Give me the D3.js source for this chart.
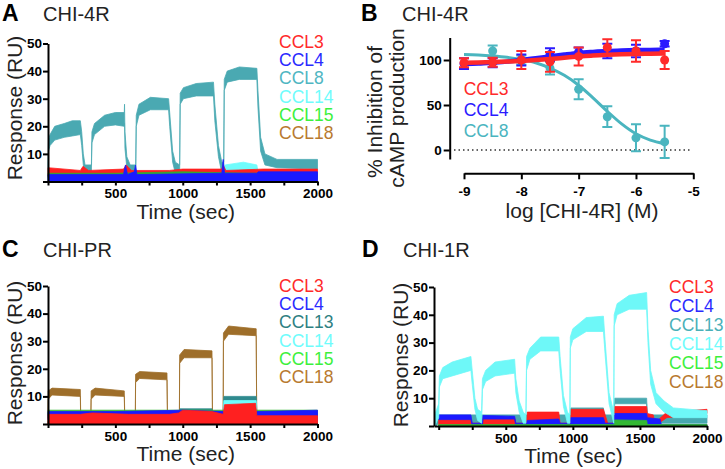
<!DOCTYPE html>
<html>
<head>
<meta charset="utf-8">
<script src="https://cdn.jsdelivr.net/npm/d3@7"></script>
<style>
  body { margin: 0; background: #fff; }
  text { font-family: 'Liberation Sans', Arial, sans-serif; }
</style>
</head>
<body>
<script>
// ---- data: sensorgram traces as [time (s), low RU, high RU] ----
const A_CCL8 = [[0,2,6],[4,11,15],[15,13,17],[50,15,20],[120,16,21],[180,16.5,22],[240,17,22],[250,13,18],[262,6,10],[275,3,6],[322,3,6],
  [326,14,18],[345,17,21],[420,20,24],[500,20.5,25],[566,20,25],[568,21,28],[571,12,18],[585,5,9],[610,3,6],[651,3,6],
  [655,20,24],[675,24,28],[760,26,30.5],[895,26,30],[903,20,25],[925,7,11],[945,3,7],[977,3,6],
  [981,28,32],[1005,30,34],[1100,31,35.5],[1228,31,36],[1238,22,28],[1265,9,13],[1290,3,7],[1304,3,7],
  [1308,33,37],[1330,36,40],[1420,37,41.5],[1550,37,41],[1558,27,33],[1578,11,16],[1610,6,10],[1700,5,8],[2000,4.5,8]];
const A_CCL14 = [[0,0,2],[1300,1,3],[1315,3,6],[1450,3,7],[1550,3,6],[1560,1,3],[2000,1,3]];
const A_CCL18 = [[0,0,1],[2000,0,1]];
const A_CCL3 = [[0,1.5,5],[240,1.5,4],[260,2,5.5],[300,1.5,4],[560,1.5,4.5],[580,2,6],[620,1.5,4],[900,1.5,4],
  [1000,1.5,4.5],[1290,1.5,4.5],[1300,2,6],[1320,1.5,4],[1600,1.5,4.5],[2000,1.5,4.5]];
const A_CCL15 = [[0,1,3],[500,1,3],[1000,1,3.5],[1500,1,3],[2000,1,3]];
const A_CCL4 = [[0,0,2.5],[560,0,2.5],[575,0,6],[590,0,2.5],[640,0,3.5],[650,0,6],[660,0,2.5],[1290,0,3],[1300,0,8],
  [1310,0,3],[1550,0,3],[1560,0,3.5],[2000,0,3.5]];

const C_CCL18 = [[0,0,2],[2,9,12],[30,10.5,13],[240,10,12.5],[243,0,2],[318,0,2],[320,9,12],[350,10.5,13],[566,10,12],[570,0,2],
  [648,0,2],[650,15,18],[680,16.5,19],[883,16,18.5],[887,0,2],[975,0,2],[977,22,25],[1010,24,27],[1217,24,26.5],[1221,0,2],
  [1300,0,2],[1302,30,33],[1340,32.5,35.5],[1545,32,34.5],[1549,0,2],[2000,0,2]];
const C_CCL13 = [[0,2,4],[975,2,4],[980,3,5.5],[1217,3,5.5],[1222,2,4],[1300,2,4],[1305,7.5,10],[1545,7.5,10],[1550,2,4],[2000,2,4]];
const C_CCL14 = [[0,1,3],[1300,1,3],[1305,5.5,8.5],[1545,6,8.5],[1550,1,3],[2000,1,3]];
const C_CCL15 = [[0,2,5],[600,2,5],[1000,2,5],[2000,2,5]];
const C_CCL4 = [[0,1.5,4.5],[500,1.5,4.5],[1000,1.5,5],[1300,1.5,4.5],[1310,0,3],[1545,0,3],[1550,1.5,4.5],[2000,1,5]];
const C_CCL3 = [[0,0,3.5],[240,0,3.5],[330,0,4],[600,0,3.5],[900,0,3.5],[970,0,4],[1000,0,5],[1217,0,4.5],[1300,0,3.5],
  [1310,0,7],[1540,0,7.5],[1550,0,3],[2000,0,3]];

const D_CCL13 = [[-20,0,1],[0,1,4],[981,1,4],[985,5,6.5],[1228,5,6.5],[1235,1,4],[1308,1,4],[1312,8,10],[1550,8,10],[1555,1,4],[2000,1,4]];
const D_CCL18 = [[0,0,0.5],[2000,0,0.5]];
const D_CCL3 = [[0,0.5,2.5],[240,0.5,2.5],[250,0,1],[326,0,1],[330,0.5,3],[566,0.5,3],[575,0,1],[655,0,1],[660,2,5],[895,2,5],
  [905,0,1],[981,0,1],[985,2,6],[1228,2,6],[1260,0,1],[1308,0,1],[1312,4,7],[1550,4,7],[1555,2,4.5],[1600,2,4],[1610,0,1],
  [1700,3,5],[2000,4.5,6]];
const D_CCL4 = [[0,2.3,4],[240,2.3,4],[250,0,1],[326,0,1],[330,2.5,3.8],[566,2.5,3.5],[575,0,1],[655,0,1],[660,0,2],[895,0,2.5],
  [905,0,1],[981,0,1],[985,0,3],[1228,0,3],[1240,0,1],[1308,0,1],[1312,1.5,4.5],[1550,1.5,4.5],[1555,0,3],[1650,0,2.5],
  [1660,0,0.5],[2000,0,0.5]];
const D_CCL15 = [[0,0,0.5],[1308,0,0.5],[1312,0,2.2],[1550,0,2],[1555,0,0.5],[2000,0,0.5]];
const D_CCL14 = [[-30,0,4],[0,3,8],[5,14,18],[30,17,21],[100,18,23],[240,20,25],[250,15,20],[270,6,10],[290,2,6],[320,1,5],
  [326,13,17],[350,16,20],[420,18,23],[566,19,24],[575,12,17],[600,5,9],[630,1,5],[650,1,4],
  [655,20,25],[680,24,28],[760,27,32],[895,27,32],[905,20,25],[930,7,11],[960,1,5],[978,1,4],
  [981,28,32],[1000,31,35],[1100,34,39],[1228,34,39.5],[1240,26,31],[1270,8,12],[1300,2,6],[1305,1,4],
  [1308,36,40],[1330,40,44],[1420,42,47],[1550,42,48],[1560,30,35],[1580,15,20],[1620,8,12],[1680,5,9],[1750,3,6.5],[2000,3,5.5]];

// ---- data: cAMP inhibition (panel B) ----
const B_x = [-9, -8.5, -8, -7.5, -7, -6.5, -6, -5.5];
const B_CCL3 = [97, 97.5, 100, 98, 104, 114, 110, 100];
const B_CCL3_err = [5, 5, 10, 11, 10, 9, 12, 10];
const B_CCL4 = [96, 97, 100, 106, 109, 110, 110, 118];
const B_CCL4_err = [6, 5, 6, 7, 5, 8, 7, 3];
const B_CCL8_x = [-8.5, -8, -7.5, -7, -6.5, -6, -5.5];
const B_CCL8 = [110, 100, 91, 67.5, 37, 13.5, 9];
const B_CCL8_err = [6, 5, 7, 11, 11.5, 15, 18];
const B_fitX = [-9, -8.75, -8.5, -8.25, -8, -7.75, -7.5, -7.25, -7, -6.75, -6.5, -6.25, -6, -5.75, -5.5];
const B_fitCCL3 = [97, 97.3, 97.7, 98.3, 99, 100, 101.2, 102.5, 103.8, 105, 105.8, 106.4, 106.8, 107, 107.2];
const B_fitCCL4 = [95.5, 96, 97, 98.2, 100, 102, 104, 106, 107.8, 109, 110, 110.6, 111, 111.2, 111.3];
const B_fitCCL8 = [106, 105.5, 104.5, 103, 100.5, 97, 91, 83, 72, 58, 43, 29, 18, 11, 7];

const timeTicks = [0, 250, 500, 750, 1000, 1250, 1500, 1750, 2000];
const ruTicks = [0, 10, 20, 30, 40, 50];

const red = '#ff2a2a', blue = '#2a2aff', teal = '#4fb6c2', cyan = '#6ffcfc', green = '#3cf03c', brown = '#b87a2f';

const svg = d3.select('body').append('svg').attr('width', 725).attr('height', 469);

function styleAxis(s) {
  s.attr('font-family', null);
  s.select('.domain').attr('stroke', '#000').attr('stroke-width', 2);
  s.selectAll('.tick line').attr('stroke', '#000').attr('stroke-width', 2);
  s.selectAll('.tick text').attr('fill', '#000').style('font-size', '13.5px').style('font-weight', 'bold');
}

function heading(x, y, letter, label) {
  svg.append('text').attr('x', x).attr('y', y).style('font-size', '23px').style('font-weight', 'bold').text(letter);
  svg.append('text').attr('x', x + 41).attr('y', y).style('font-size', '20px').attr('fill', '#222').text(label);
}

function legend(x, y, step, items) {
  svg.append('g').selectAll('text').data(items).join('text')
    .attr('x', x).attr('y', (d, i) => y + i * step)
    .attr('fill', d => d[1]).style('font-size', '17.5px')
    .text(d => d[0]);
}

function sensorPanel(p) {
  const x = d3.scaleLinear().domain(p.xDomain).range(p.xRange);
  const y = d3.scaleLinear().domain([0, 50]).range(p.yRange);
  const area = d3.area().x(d => x(d[0])).y0(d => y(d[1])).y1(d => y(d[2]));

  p.traces.forEach(t => {
    svg.append('path').datum(t[0]).attr('d', area)
      .attr('fill', t[1]).attr('stroke', t[1]).attr('stroke-width', 0.8).attr('stroke-linejoin', 'round');
  });

  svg.append('g').attr('transform', `translate(0,${y(0)})`)
    .call(d3.axisBottom(x).tickValues(timeTicks).tickFormat(d => d > 0 && d % 500 === 0 ? d : '')
      .tickSize(4).tickSizeOuter(0).tickPadding(3))
    .call(styleAxis);

  svg.append('g').attr('transform', `translate(${p.xRange[0]},0)`)
    .call(d3.axisLeft(y).tickValues(ruTicks).tickFormat(d => d === 0 ? '' : d)
      .tickSize(5).tickSizeOuter(0).tickPadding(1))
    .call(styleAxis);

  svg.append('text').attr('x', (p.xRange[0] + p.xRange[1]) / 2 + 3).attr('y', y(0) + 37)
    .attr('text-anchor', 'middle').attr('fill', '#222').style('font-size', '21px').text('Time (sec)');

  svg.append('text').attr('transform', `translate(${p.xRange[0] - 26},${p.titleY}) rotate(-90)`)
    .attr('text-anchor', 'middle').attr('fill', '#222').style('font-size', '21px').text('Response (RU)');
}

// ── Panel A ──
heading(2, 21, 'A', 'CHI-4R');
sensorPanel({
  xDomain: [0, 2000], xRange: [48, 317.5], yRange: [181.5, 43.5], titleY: 108,
  traces: [[A_CCL14, cyan], [A_CCL18, brown], [A_CCL8, '#4aa9b2'], [A_CCL3, '#ff2020'], [A_CCL15, '#33a833'], [A_CCL4, '#1a1aff']]
});
legend(279, 48, 18.2, [['CCL3', red], ['CCL4', blue], ['CCL8', teal], ['CCL14', cyan], ['CCL15', green], ['CCL18', brown]]);

// ── Panel C ──
heading(2, 257, 'C', 'CHI-PR');
sensorPanel({
  xDomain: [0, 2000], xRange: [48, 317.5], yRange: [424, 286], titleY: 353,
  traces: [[C_CCL18, '#9e6e2a'], [C_CCL13, '#2f8a8e'], [C_CCL14, cyan], [C_CCL15, '#33b833'], [C_CCL4, '#1a1aff'], [C_CCL3, '#ff2020']]
});
legend(279, 292, 18.2, [['CCL3', red], ['CCL4', blue], ['CCL13', '#2e8082'], ['CCL14', cyan], ['CCL15', green], ['CCL18', brown]]);

// ── Panel D ──
heading(362, 257, 'D', 'CHI-1R');
sensorPanel({
  xDomain: [-35, 2000], xRange: [434, 707], yRange: [426, 287], titleY: 355,
  traces: [[D_CCL13, '#48a8b0'], [D_CCL18, brown], [D_CCL3, '#ff2020'], [D_CCL4, '#1a1aff'], [D_CCL15, '#33b833'], [D_CCL14, '#6ef8f8']]
});
legend(669, 293, 19, [['CCL3', red], ['CCL4', blue], ['CCL13', '#4ab0b8'], ['CCL14', cyan], ['CCL15', green], ['CCL18', brown]]);

// ── Panel B ──
heading(361, 21, 'B', 'CHI-4R');
{
  const x = d3.scaleLinear().domain([-9, -5]).range([464, 693.3]);
  const y = d3.scaleLinear().domain([-10, 125]).range([159, 37.5]);

  svg.append('line').attr('x1', 454).attr('x2', 692).attr('y1', y(0)).attr('y2', y(0))
    .attr('stroke', '#333').attr('stroke-width', 1.5).attr('stroke-dasharray', '1.5,3');

  const line = d3.line().x(d => x(d[0])).y(d => y(d[1])).curve(d3.curveMonotoneX);
  const series = [
    { xs: B_CCL8_x, m: B_CCL8, e: B_CCL8_err, fit: B_fitCCL8, color: '#4ab5bf', w: 3 },
    { xs: B_x, m: B_CCL4, e: B_CCL4_err, fit: B_fitCCL4, color: '#2a1aff', w: 4.5 },
    { xs: B_x, m: B_CCL3, e: B_CCL3_err, fit: B_fitCCL3, color: '#ff2a2a', w: 4.5 }
  ];
  series.forEach(s => {
    svg.append('path').datum(B_fitX.map((v, i) => [v, s.fit[i]])).attr('d', line)
      .attr('fill', 'none').attr('stroke', s.color).attr('stroke-width', s.w);
    const pts = s.xs.map((v, i) => ({ x: v, m: s.m[i], e: s.e[i] }));
    const g = svg.append('g').attr('stroke', s.color).attr('stroke-width', 2);
    g.selectAll('.eb').data(pts).join('path')
      .attr('fill', 'none')
      .attr('d', d => `M${x(d.x) - 5},${y(d.m + d.e)}H${x(d.x) + 5}M${x(d.x)},${y(d.m + d.e)}V${y(d.m - d.e)}M${x(d.x) - 5},${y(d.m - d.e)}H${x(d.x) + 5}`);
    svg.append('g').selectAll('circle').data(pts).join('circle')
      .attr('cx', d => x(d.x)).attr('cy', d => y(d.m)).attr('r', 4.5).attr('fill', s.color);
  });

  svg.append('g').attr('transform', `translate(0,173.3)`)
    .call(d3.axisBottom(x).tickValues([-9, -8, -7, -6, -5]).tickFormat(d => String(d))
      .tickSize(6).tickSizeOuter(0).tickPadding(7))
    .call(styleAxis);
  svg.append('g').attr('transform', `translate(449.7,0)`)
    .call(d3.axisLeft(y).tickValues([0, 50, 100]).tickSize(6).tickSizeOuter(0).tickPadding(2))
    .call(styleAxis);

  svg.append('text').attr('x', 582).attr('y', 218).attr('text-anchor', 'middle')
    .attr('fill', '#222').style('font-size', '21px').text('log [CHI-4R] (M)');
  svg.append('text').attr('transform', 'translate(382,112) rotate(-90)').attr('text-anchor', 'middle')
    .attr('fill', '#222').style('font-size', '21px').text('% Inhibition of');
  svg.append('text').attr('transform', 'translate(404,108) rotate(-90)').attr('text-anchor', 'middle')
    .attr('fill', '#222').style('font-size', '21px').text('cAMP production');

  legend(463.7, 95, 21, [['CCL3', '#ff2a2a'], ['CCL4', '#2a1aff'], ['CCL8', '#4ab5bf']]);
}
</script>
</body>
</html>
